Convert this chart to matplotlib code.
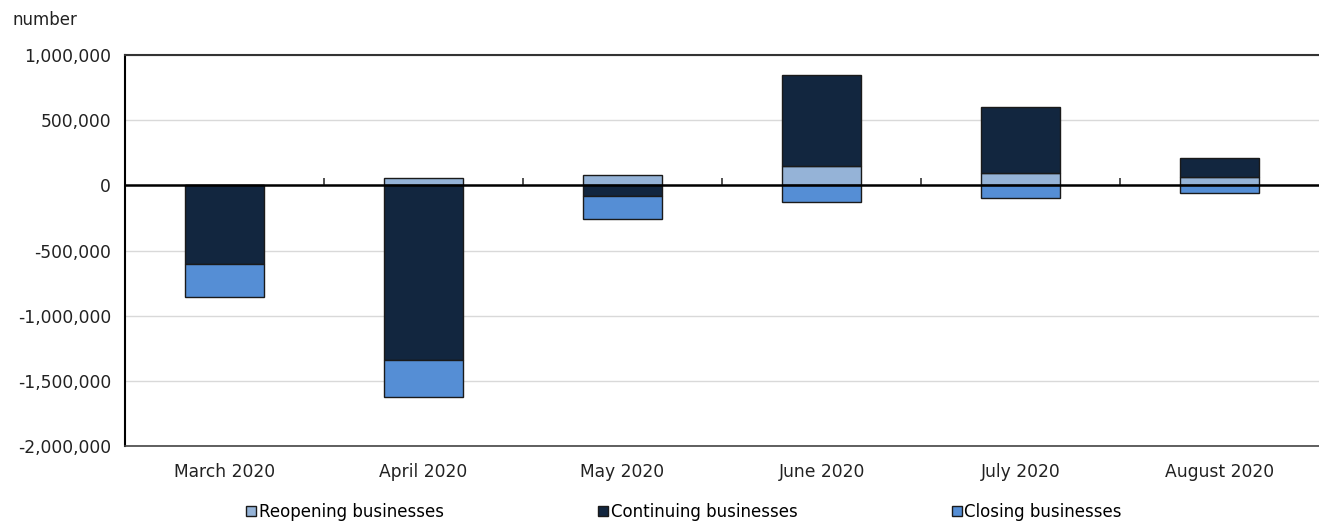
import numpy as np
import matplotlib
matplotlib.use("Agg")
import matplotlib.pyplot as plt
from matplotlib.ticker import FuncFormatter

months = ["March 2020", "April 2020", "May 2020", "June 2020", "July 2020", "August 2020"]
reopening = [0, 54000, 77000, 148000, 98000, 62000]
continuing = [-600000, -1338000, -82000, 700000, 504000, 146000]
closing = [-254000, -285000, -174000, -128000, -100000, -59000]

series = [
    ("Reopening businesses", reopening, "#95b3d7"),
    ("Continuing businesses", continuing, "#12263f"),
    ("Closing businesses", closing, "#558ed5"),
]

plt.rcParams["font.family"] = ["DejaVu Sans"]

fig = plt.figure(figsize=(13.19, 5.21), dpi=100)
ax = fig.add_axes([125 / 1319, 1 - 446 / 521, 1 - 125 / 1319, (446 - 55) / 521])

x = np.arange(len(months))
pos_base = np.zeros(len(months))
neg_base = np.zeros(len(months))
for name, vals, col in series:
    vals = np.array(vals, dtype=float)
    bottom = np.where(vals >= 0, pos_base, neg_base)
    ax.bar(x, vals, width=0.4, bottom=bottom, color=col, edgecolor="#1a1a1a",
           linewidth=1, label=name, zorder=3)
    pos_base = np.where(vals >= 0, pos_base + vals, pos_base)
    neg_base = np.where(vals < 0, neg_base + vals, neg_base)

ax.set_xlim(-0.5, len(months) - 0.5)
ax.set_ylim(-2000000, 1000000)
ax.set_yticks(np.arange(-2000000, 1000001, 500000))
ax.yaxis.set_major_formatter(FuncFormatter(lambda v, p: f"{int(v):,}"))
ax.set_xticks(x)
ax.set_xticklabels(months)
ax.tick_params(axis="both", length=0, labelsize=12.3, colors="#222222")
ax.tick_params(axis="x", pad=12)
ax.tick_params(axis="y", pad=10)
ax.grid(axis="y", color="#d9d9d9", linewidth=1, zorder=0)

ax.spines["right"].set_visible(False)
ax.spines["left"].set_color("black")
ax.spines["left"].set_linewidth(1.5)
ax.spines["top"].set_color("#333333")
ax.spines["top"].set_linewidth(1.5)
ax.spines["bottom"].set_color("#444444")
ax.spines["bottom"].set_linewidth(1.2)

# zero line drawn over the bars, with small separators between months
ax.axhline(0, color="black", linewidth=1.8, zorder=5)
sec = ax.secondary_xaxis(0, transform=ax.transData)
sec.set_xticks(np.arange(0.5, len(months) - 1, 1.0))
sec.tick_params(axis="x", direction="in", length=5, width=1.2, color="#333333",
                labelbottom=False)
sec.spines["bottom"].set_visible(False)

fig.text(12 / 1319, 1 - 20 / 521, "number", fontsize=12, color="#222222", va="center")

handles, labels = ax.get_legend_handles_labels()
fig.legend(handles, labels, loc="center", bbox_to_anchor=(0.5186, 1 - 512 / 521),
           ncol=3, frameon=False, fontsize=12, handlelength=0.6, handleheight=0.6,
           handletextpad=0.15, columnspacing=9.27)

fig.savefig("out.png", dpi=100)
